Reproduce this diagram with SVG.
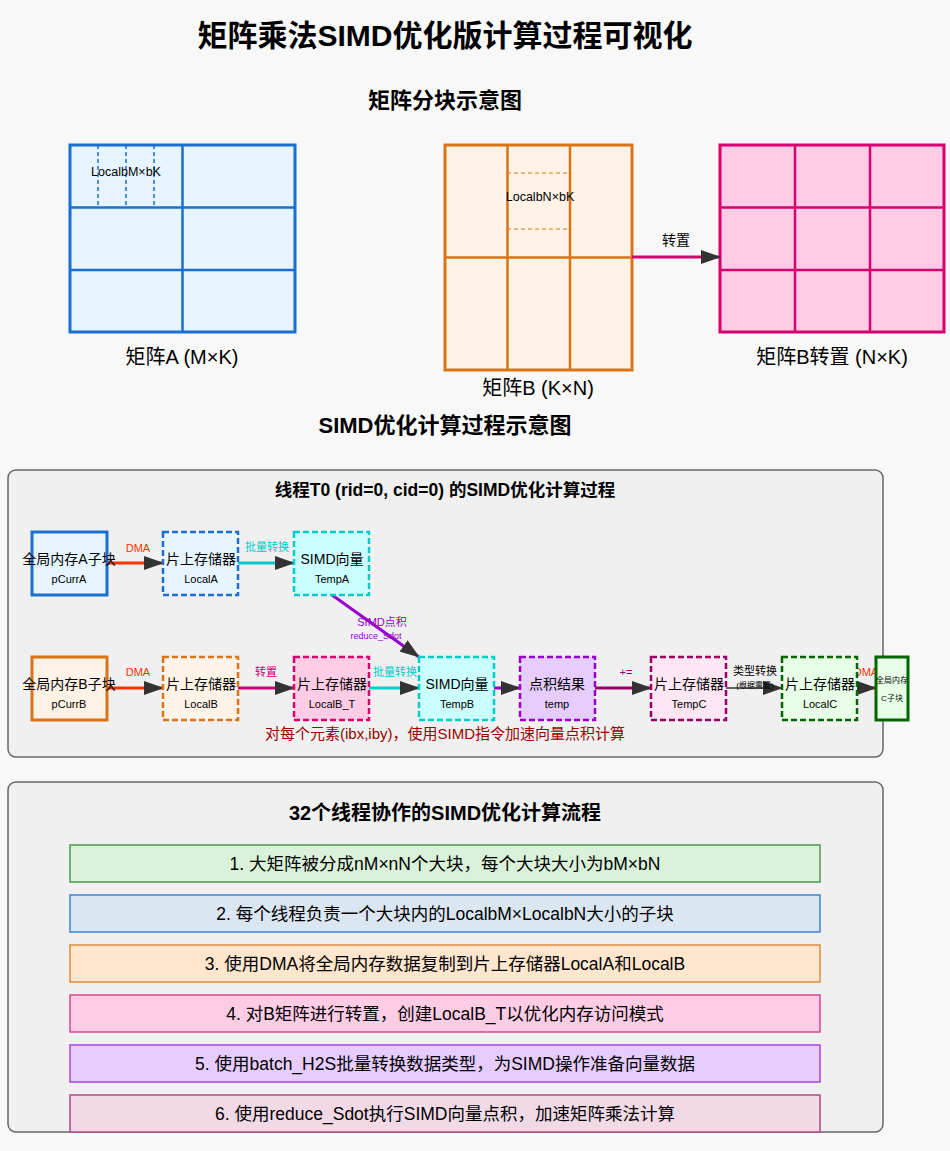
<svg xmlns="http://www.w3.org/2000/svg" width="950" height="1151" viewBox="0 0 950 1151">
<defs>
<marker id="ah" markerWidth="20" markerHeight="14" refX="19" refY="7" orient="auto" markerUnits="userSpaceOnUse">
<path d="M0,0 L20,7 L0,14 Z" fill="#333"/>
</marker>
<style>
text{font-family:"Liberation Sans","Noto Sans CJK SC",sans-serif;text-anchor:middle;fill:#000}
.h1{font-size:30px;font-weight:bold}
.h2{font-size:22px;font-weight:bold}
.mlab{font-size:20px}
.small{font-size:12.5px}
.nt{font-size:14px}
.ns{font-size:11px}
.al{font-size:11px}
.panel{fill:#f0f0f0;stroke:#666;stroke-width:1.5}
.step{font-size:17.5px}
.conn{fill:none;stroke-width:3;marker-end:url(#ah)}
</style>
</defs>
<rect width="950" height="1151" fill="#f8f8f8"/>
<text class="h1" x="445" y="46">矩阵乘法SIMD优化版计算过程可视化</text>
<text class="h2" x="445" y="108">矩阵分块示意图</text>

<g id="matrixA">
<rect x="70" y="145" width="225" height="187" fill="#e6f5ff" stroke="#1a6fcf" stroke-width="3"/>
<path d="M182.5,145V332M70,207.5H295M70,270H295" stroke="#1a6fcf" stroke-width="2.5" fill="none"/>
<path d="M98,145V207M126,145V207M154,145V207" stroke="#1a6fcf" stroke-width="1.5" stroke-dasharray="4,3" fill="none"/>
<text class="small" x="126" y="176">LocalbM×bK</text>
<text class="mlab" x="182" y="364">矩阵A (M×K)</text>
</g>

<g id="matrixB">
<rect x="445" y="145" width="187" height="225" fill="#fff2e6" stroke="#d97517" stroke-width="3"/>
<path d="M507.5,145V370M570,145V370M445,257.5H632" stroke="#d97517" stroke-width="2.5" fill="none"/>
<path d="M507,173H570M507,229H570" stroke="#d97517" stroke-width="1.2" stroke-dasharray="4,3" fill="none"/>
<text class="small" x="540" y="201">LocalbN×bK</text>
<text class="mlab" x="538" y="395">矩阵B (K×N)</text>
</g>

<g id="matrixBT">
<rect x="720" y="145" width="224" height="187" fill="#ffcce6" stroke="#d6006f" stroke-width="3"/>
<path d="M795,145V332M870,145V332M720,207.5H944M720,270H944" stroke="#d6006f" stroke-width="2.5" fill="none"/>
<text class="mlab" x="832" y="364">矩阵B转置 (N×K)</text>
</g>

<g id="transposeArrow">
<line x1="632" y1="257" x2="720" y2="257" stroke="#d6006f" stroke-width="3" marker-end="url(#ah)"/>
<text x="676" y="245" style="font-size:14px">转置</text>
</g>

<text class="h2" x="445" y="433">SIMD优化计算过程示意图</text>

<g id="panel1">
<rect class="panel" x="8" y="470" width="875" height="287" rx="8"/>
<text x="445" y="496" style="font-size:17.5px;font-weight:bold">线程T0 (rid=0, cid=0) 的SIMD优化计算过程</text>
</g>

<g id="connectors">
<line class="conn" x1="107" y1="563" x2="163" y2="563" stroke="#ff3300"/>
<text class="al" x="138" y="552" style="fill:#ff3300">DMA</text>
<line class="conn" x1="238" y1="563" x2="294" y2="563" stroke="#00cccc"/>
<text class="al" x="267" y="551" style="fill:#00cccc">批量转换</text>
<line class="conn" x1="332" y1="595" x2="419" y2="657" stroke="#9900cc"/>
<text class="al" x="382" y="626" style="fill:#9900cc">SIMD点积</text>
<text x="376" y="639" style="font-size:9px;fill:#9900cc">reduce_Sdot</text>
<line class="conn" x1="107" y1="688" x2="163" y2="688" stroke="#ff3300"/>
<text class="al" x="138" y="676" style="fill:#ff3300">DMA</text>
<line class="conn" x1="238" y1="688" x2="294" y2="688" stroke="#cc0077"/>
<text class="al" x="266" y="676" style="fill:#cc0077">转置</text>
<line class="conn" x1="369" y1="688" x2="419" y2="688" stroke="#00cccc"/>
<text class="al" x="395" y="676" style="fill:#00cccc">批量转换</text>
<line class="conn" x1="494" y1="688" x2="520" y2="688" stroke="#9900cc"/>
<line class="conn" x1="595" y1="688" x2="651" y2="688" stroke="#990066"/>
<text class="al" x="626" y="676" style="fill:#990066">+=</text>
<line class="conn" x1="726" y1="688" x2="782" y2="688" stroke="#333" style="stroke-width:1.5"/>
<text class="al" x="755" y="675">类型转换</text>
<text x="755" y="688" style="font-size:8px">(根据需要)</text>
<line class="conn" x1="857" y1="688" x2="876" y2="688" stroke="#ff3300"/>
<text class="al" x="866" y="676" style="fill:#ff3300">DMA</text>
</g>

<g id="pCurrA">
<rect x="32" y="532" width="75" height="63" fill="#e6f5ff" stroke="#1a6fcf" stroke-width="3"/>
<text class="nt" x="69" y="564">全局内存A子块</text>
<text class="ns" x="69" y="583">pCurrA</text>
</g>
<g id="LocalA">
<rect x="163" y="532" width="75" height="63" fill="#e6f5ff" stroke="#1a6fcf" stroke-width="2.5" stroke-dasharray="6,3"/>
<text class="nt" x="201" y="564">片上存储器</text>
<text class="ns" x="201" y="583">LocalA</text>
</g>
<g id="TempA">
<rect x="294" y="532" width="75" height="63" fill="#ccffff" stroke="#00cccc" stroke-width="2.5" stroke-dasharray="6,3"/>
<text class="nt" x="332" y="564">SIMD向量</text>
<text class="ns" x="332" y="583">TempA</text>
</g>
<g id="pCurrB">
<rect x="32" y="657" width="75" height="63" fill="#fff2e6" stroke="#d97517" stroke-width="3"/>
<text class="nt" x="69" y="689">全局内存B子块</text>
<text class="ns" x="69" y="708">pCurrB</text>
</g>
<g id="LocalB">
<rect x="163" y="657" width="75" height="63" fill="#fff2e6" stroke="#d97517" stroke-width="2.5" stroke-dasharray="6,3"/>
<text class="nt" x="201" y="689">片上存储器</text>
<text class="ns" x="201" y="708">LocalB</text>
</g>
<g id="LocalB_T">
<rect x="294" y="657" width="75" height="63" fill="#ffcce6" stroke="#d6006f" stroke-width="2.5" stroke-dasharray="6,3"/>
<text class="nt" x="332" y="689">片上存储器</text>
<text class="ns" x="332" y="708">LocalB_T</text>
</g>
<g id="TempB">
<rect x="419" y="657" width="75" height="63" fill="#ccffff" stroke="#00cccc" stroke-width="2.5" stroke-dasharray="6,3"/>
<text class="nt" x="457" y="689">SIMD向量</text>
<text class="ns" x="457" y="708">TempB</text>
</g>
<g id="temp">
<rect x="520" y="657" width="75" height="63" fill="#e6ccff" stroke="#9900cc" stroke-width="2.5" stroke-dasharray="6,3"/>
<text class="nt" x="557" y="689">点积结果</text>
<text class="ns" x="557" y="708">temp</text>
</g>
<g id="TempC">
<rect x="651" y="657" width="75" height="63" fill="#ffe6f5" stroke="#990066" stroke-width="2.5" stroke-dasharray="6,3"/>
<text class="nt" x="689" y="689">片上存储器</text>
<text class="ns" x="689" y="708">TempC</text>
</g>
<g id="LocalC">
<rect x="782" y="657" width="75" height="63" fill="#e6ffe6" stroke="#006600" stroke-width="2.5" stroke-dasharray="6,3"/>
<text class="nt" x="820" y="689">片上存储器</text>
<text class="ns" x="820" y="708">LocalC</text>
</g>
<g id="Cblock">
<rect x="876" y="657" width="32" height="63" fill="#e6ffe6" stroke="#006600" stroke-width="3"/>
<text x="892" y="683" style="font-size:8px">全局内存</text>
<text x="892" y="701" style="font-size:8px">C子块</text>
</g>

<text x="445" y="739" style="font-size:15px;fill:#990000">对每个元素(ibx,iby)，使用SIMD指令加速向量点积计算</text>

<g id="panel2">
<rect class="panel" x="8" y="782" width="875" height="350" rx="8"/>
<text x="445" y="820" style="font-size:20px;font-weight:bold">32个线程协作的SIMD优化计算流程</text>
</g>
<g id="step1">
<rect x="70" y="845" width="750" height="37" fill="#d9f2d9" stroke="#4d994d" stroke-width="1.5"/>
<text class="step" x="445" y="870">1. 大矩阵被分成nM×nN个大块，每个大块大小为bM×bN</text>
</g>
<g id="step2">
<rect x="70" y="895" width="750" height="37" fill="#dae6f2" stroke="#3d85d6" stroke-width="1.5"/>
<text class="step" x="445" y="920">2. 每个线程负责一个大块内的LocalbM×LocalbN大小的子块</text>
</g>
<g id="step3">
<rect x="70" y="945" width="750" height="37" fill="#ffe6cc" stroke="#e08a3d" stroke-width="1.5"/>
<text class="step" x="445" y="970">3. 使用DMA将全局内存数据复制到片上存储器LocalA和LocalB</text>
</g>
<g id="step4">
<rect x="70" y="995" width="750" height="37" fill="#ffcce6" stroke="#d6478f" stroke-width="1.5"/>
<text class="step" x="445" y="1020">4. 对B矩阵进行转置，创建LocalB_T以优化内存访问模式</text>
</g>
<g id="step5">
<rect x="70" y="1045" width="750" height="37" fill="#e6ccff" stroke="#aa44dd" stroke-width="1.5"/>
<text class="step" x="445" y="1070">5. 使用batch_H2S批量转换数据类型，为SIMD操作准备向量数据</text>
</g>
<g id="step6">
<rect x="70" y="1095" width="750" height="37" fill="#f2d9e6" stroke="#b3478a" stroke-width="1.5"/>
<text class="step" x="445" y="1120">6. 使用reduce_Sdot执行SIMD向量点积，加速矩阵乘法计算</text>
</g>
</svg>
